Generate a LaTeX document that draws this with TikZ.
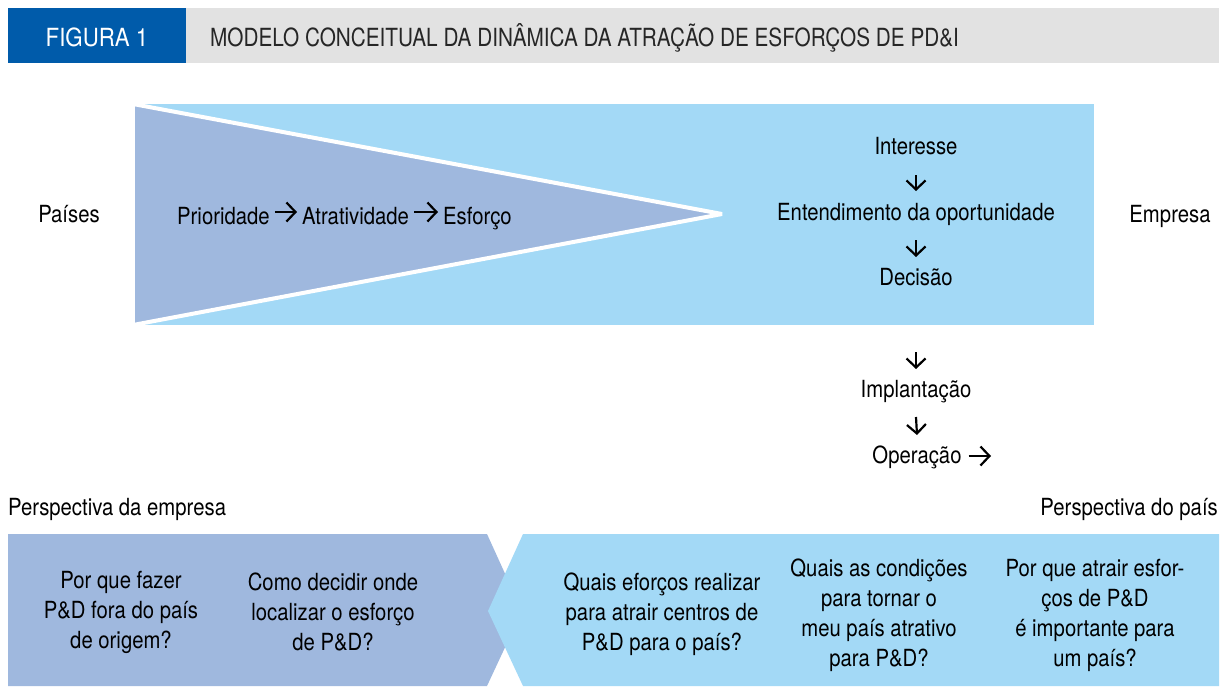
\documentclass[tikz,border=0pt]{standalone}
\usepackage{fontspec}
\setmainfont{TeX Gyre Heros}[FakeStretch=0.86]
\newfontfamily\titlefont{TeX Gyre Heros}[FakeStretch=0.83]
\newfontfamily\figfont{TeX Gyre Heros}[FakeStretch=0.89]
\usetikzlibrary{arrows.meta}
\definecolor{lblue}{RGB}{163,217,246}
\definecolor{slate}{RGB}{159,184,222}
\definecolor{hblue}{RGB}{0,91,170}
\definecolor{hgray}{RGB}{226,226,226}
\begin{document}
\begin{tikzpicture}[x=1pt,y=-1pt,
  txt/.style={inner sep=0pt, font=\fontsize{23.6}{30}\selectfont, align=center, text=black},
  arr/.style={-{Straight Barb[length=9pt,width=19pt]}, line width=2.2pt},
]
\useasboundingbox (0,0) rectangle (1227,686);
% header
\fill[hblue] (8,8) rectangle (186,63);
\fill[hgray] (186,8) rectangle (1219,63);
\node[inner sep=0pt, anchor=base, text=white, font=\figfont\fontsize{25}{25}\selectfont] (fig) at (97,46) {FIGURA 1};
\node[inner sep=0pt, anchor=base west, text=black!85, font=\titlefont\fontsize{25}{25}\selectfont] (title) at (210,46) {MODELO CONCEITUAL DA DINÂMICA DA ATRAÇÃO DE ESFORÇOS DE PD\&I};
% top band
\fill[lblue] (135,104) rectangle (1094,325);
\begin{scope}
\clip (135,104) rectangle (1094,325);
\fill[slate] (135,104.5) -- (722,214) -- (135,324.5) -- cycle;
\draw[white, line width=4pt, line join=bevel] (133,104) -- (722,214) -- (133,325);
\end{scope}
\node[txt, anchor=base] (paises) at (69,222) {Países};
\node[txt, anchor=base] (empresa) at (1170,222) {Empresa};
\node[txt, anchor=base west] (prio) at (177,224) {Prioridade};
\node[txt, anchor=base west] (atr) at (302,224) {Atratividade};
\node[txt, anchor=base west] (esf) at (443,224) {Esforço};
\draw[arr] ([xshift=5pt,yshift=12pt]prio.base east) -- ([xshift=-5pt,yshift=12pt]atr.base west);
\draw[arr] ([xshift=5pt,yshift=12pt]atr.base east) -- ([xshift=-5pt,yshift=12pt]esf.base west);
% right column
\node[txt, anchor=base] (int) at (916,154) {Interesse};
\node[txt, anchor=base] (ent) at (916,220) {Entendimento da oportunidade};
\node[txt, anchor=base] (dec) at (916,285) {Decisão};
\node[txt, anchor=base] (imp) at (916,397) {Implantação};
\node[txt, anchor=base] (op) at (917,463) {Operação};
\coordinate (opend) at (991,456);
\draw[arr] ([yshift=-21pt]int.base) -- ([yshift=29pt]ent.base);
\draw[arr] ([yshift=-20pt]ent.base) -- ([yshift=28pt]dec.base);
\draw[arr] ([yshift=-67pt]dec.base) -- ([yshift=28pt]imp.base);
\draw[arr] ([yshift=-20pt]imp.base) -- ([yshift=28pt]op.base);
\draw[arr] ([xshift=7pt,yshift=7pt]op.base east) -- (opend);
% perspectives
\node[txt, anchor=base west] (pemp) at (8,515) {Perspectiva da empresa};
\node[txt, anchor=base east] (ppais) at (1218,515) {Perspectiva do país};
% bottom shapes
\fill[slate] (8,534) -- (487,534) -- (522,611) -- (487,686) -- (8,686) -- cycle;
\fill[lblue] (523,534) -- (1219,534) -- (1219,686) -- (523,686) -- (488,611) -- cycle;
\node[txt] (q1) at (121,612) {Por que fazer\\P\&D fora do país\\de origem?};
\node[txt] (q2) at (333,612) {Como decidir onde\\localizar o esforço\\de P\&D?};
\node[txt] (q3) at (662,614) {Quais eforços realizar\\para atrair centros de\\P\&D para o país?};
\node[txt] (q4) at (879,615) {Quais as condições\\para tornar o\\meu país atrativo\\para P\&D?};
\node[txt] (q5) at (1095,615) {Por que atrair esfor-\\ços de P\&D\\é importante para\\um país?};
\end{tikzpicture}
\end{document}
